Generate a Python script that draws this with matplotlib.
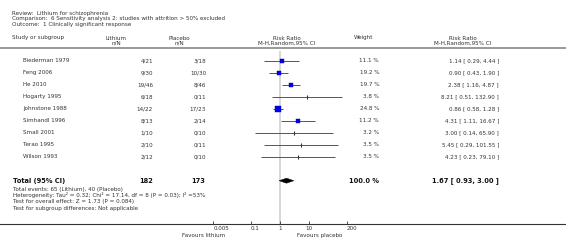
import numpy as np
import matplotlib
matplotlib.use('Agg')
import matplotlib.pyplot as plt
from matplotlib.patches import Polygon

# ── Data ────────────────────────────────────────────────────────────────────
title_lines = ["Review:  Lithium for schizophrenia",
               "Comparison:  6 Sensitivity analysis 2: studies with attrition > 50% excluded",
               "Outcome:  1 Clinically significant response"]

studies = ['Biederman 1979', 'Feng 2006', 'He 2010', 'Hogarty 1995', 'Johnstone 1988',
           'Simhandl 1996', 'Small 2001', 'Terao 1995', 'Wilson 1993']
lithium_nN = ['4/21', '9/30', '19/46', '6/18', '14/22', '8/13', '1/10', '2/10', '2/12']
placebo_nN = ['3/18', '10/30', '8/46', '0/11', '17/23', '2/14', '0/10', '0/11', '0/10']
weights = [11.1, 19.2, 19.7, 3.8, 24.8, 11.2, 3.2, 3.5, 3.5]
rr = [1.14, 0.90, 2.38, 8.21, 0.86, 4.31, 3.00, 5.45, 4.23]
ci_lo = [0.29, 0.43, 1.16, 0.51, 0.58, 1.11, 0.14, 0.29, 0.23]
ci_hi = [4.44, 1.90, 4.87, 132.90, 1.28, 16.67, 65.90, 101.55, 79.10]

total_lithium, total_placebo = 182, 173
total_weight = 100.0
total_rr, total_lo, total_hi = 1.67, 0.93, 3.00

footnotes = ["Total events: 65 (Lithium), 40 (Placebo)",
             "Heterogeneity: Tau\u00b2 = 0.32; Chi\u00b2 = 17.14, df = 8 (P = 0.03); I\u00b2 =53%",
             "Test for overall effect: Z = 1.73 (P = 0.084)",
             "Test for subgroup differences: Not applicable"]

ticks = [0.005, 0.1, 1, 10, 200]
tick_labels = ['0.005', '0.1', '1', '10', '200']

# ── Layout (pixels) ─────────────────────────────────────────────────────────
W, H = 566, 241
TXT = '#333333'
FS = 4.1
FSB = 4.8

fig = plt.figure(figsize=(W / 100, H / 100), dpi=100)
bg = fig.add_axes([0, 0, 1, 1])
bg.set_xlim(0, W)
bg.set_ylim(H, 0)
bg.axis('off')


def row_y(i):
    return 60.7 + 12 * i


for k, line in enumerate(title_lines):
    bg.text(12, 13.3 + 5.4 * k, line, fontsize=FS, color=TXT, va='center')

# column headers
bg.text(12, 38, 'Study or subgroup', fontsize=FS, color=TXT, va='center')
bg.text(116, 38, 'Lithium', fontsize=FS, color=TXT, va='center', ha='center')
bg.text(116, 43, 'n/N', fontsize=FS, color=TXT, va='center', ha='center')
bg.text(179, 38, 'Placebo', fontsize=FS, color=TXT, va='center', ha='center')
bg.text(179, 43, 'n/N', fontsize=FS, color=TXT, va='center', ha='center')
bg.text(287, 38, 'Risk Ratio', fontsize=FS, color=TXT, va='center', ha='center')
bg.text(287, 43, 'M-H,Random,95% CI', fontsize=FS, color=TXT, va='center', ha='center')
bg.text(364, 38, 'Weight', fontsize=FS, color=TXT, va='center', ha='center')
bg.text(463, 38, 'Risk Ratio', fontsize=FS, color=TXT, va='center', ha='center')
bg.text(463, 43, 'M-H,Random,95% CI', fontsize=FS, color=TXT, va='center', ha='center')
bg.axhline(48, color='#999999', lw=1.4)

# study rows
for i, name in enumerate(studies):
    y = row_y(i)
    bg.text(23, y, name, fontsize=FS, color=TXT, va='center')
    bg.text(153, y, lithium_nN[i], fontsize=FS, color=TXT, va='center', ha='right')
    bg.text(206, y, placebo_nN[i], fontsize=FS, color=TXT, va='center', ha='right')
    bg.text(379, y, f'{weights[i]:.1f} %', fontsize=FS, color=TXT, va='center', ha='right')
    bg.text(499, y, f'{rr[i]:.2f} [ {ci_lo[i]:.2f}, {ci_hi[i]:.2f} ]',
            fontsize=FS, color=TXT, va='center', ha='right')

# total row
yt = row_y(10)
bg.text(13, yt, 'Total (95% CI)', fontsize=FSB, color='#111111', weight='bold', va='center')
bg.text(153, yt, str(total_lithium), fontsize=FSB, color='#111111', weight='bold', va='center', ha='right')
bg.text(205, yt, str(total_placebo), fontsize=FSB, color='#111111', weight='bold', va='center', ha='right')
bg.text(379, yt, f'{total_weight:.1f} %', fontsize=FSB, color='#111111', weight='bold', va='center', ha='right')
bg.text(499, yt, f'{total_rr:.2f} [ {total_lo:.2f}, {total_hi:.2f} ]',
        fontsize=FSB, color='#111111', weight='bold', va='center', ha='right')

for k, line in enumerate(footnotes):
    bg.text(13, 189 + 6.4 * k, line, fontsize=FS, color=TXT, va='center')

# bottom axis line + favours labels
bg.axhline(224.3, color='#333333', lw=0.8)
bg.text(203.5, 235.7, 'Favours lithium', fontsize=FS, color=TXT, va='center', ha='center')
bg.text(320, 235.7, 'Favours placebo', fontsize=FS, color=TXT, va='center', ha='center')

# ── Forest panel ────────────────────────────────────────────────────────────
x0, x1 = 213.3, 346.7
ytop, ybot = 48.0, 224.3
ax = fig.add_axes([x0 / W, 1 - ybot / H, (x1 - x0) / W, (ybot - ytop) / H])
ax.set_facecolor('none')
ax.set_xscale('log')
ax.set_xlim(0.005, 200)
ax.set_ylim((ybot - 60.7) / 12, (ytop - 60.7) / 12)
ax.axvline(1, ymax=0.98, color='#d4d4d4', lw=1.3, zorder=0)

for i in range(len(studies)):
    ax.hlines(i, ci_lo[i], ci_hi[i], color='#555555', lw=0.7, zorder=2)
    if weights[i] >= 5:
        ax.plot(rr[i], i, marker='s', ms=0.8 * np.sqrt(weights[i]),
                mfc='#0000ee', mec='#0000aa', mew=0.3, zorder=3)
    else:
        ax.plot(rr[i], i, marker='|', ms=2.6, mew=0.8, color='#333333', zorder=3)

dh = 0.21
diamond = Polygon([(total_lo, 10), (total_rr, 10 - dh), (total_hi, 10), (total_rr, 10 + dh)],
                  closed=True, facecolor='black', edgecolor='black', lw=0.3, zorder=3)
ax.add_patch(diamond)

ax.set_xticks(ticks)
ax.set_xticklabels(tick_labels)
# RevMan places the outer labels just right of their ticks
for lab, ha in zip(ax.get_xticklabels(), ['left', 'left', 'center', 'center', 'left']):
    lab.set_ha(ha)
ax.minorticks_off()
ax.set_yticks([])
ax.tick_params(axis='x', length=2, width=0.6, direction='in', pad=1.5,
               labelsize=FS, colors=TXT)
for s in ax.spines.values():
    s.set_visible(False)

fig.savefig('out.png', dpi=100)
